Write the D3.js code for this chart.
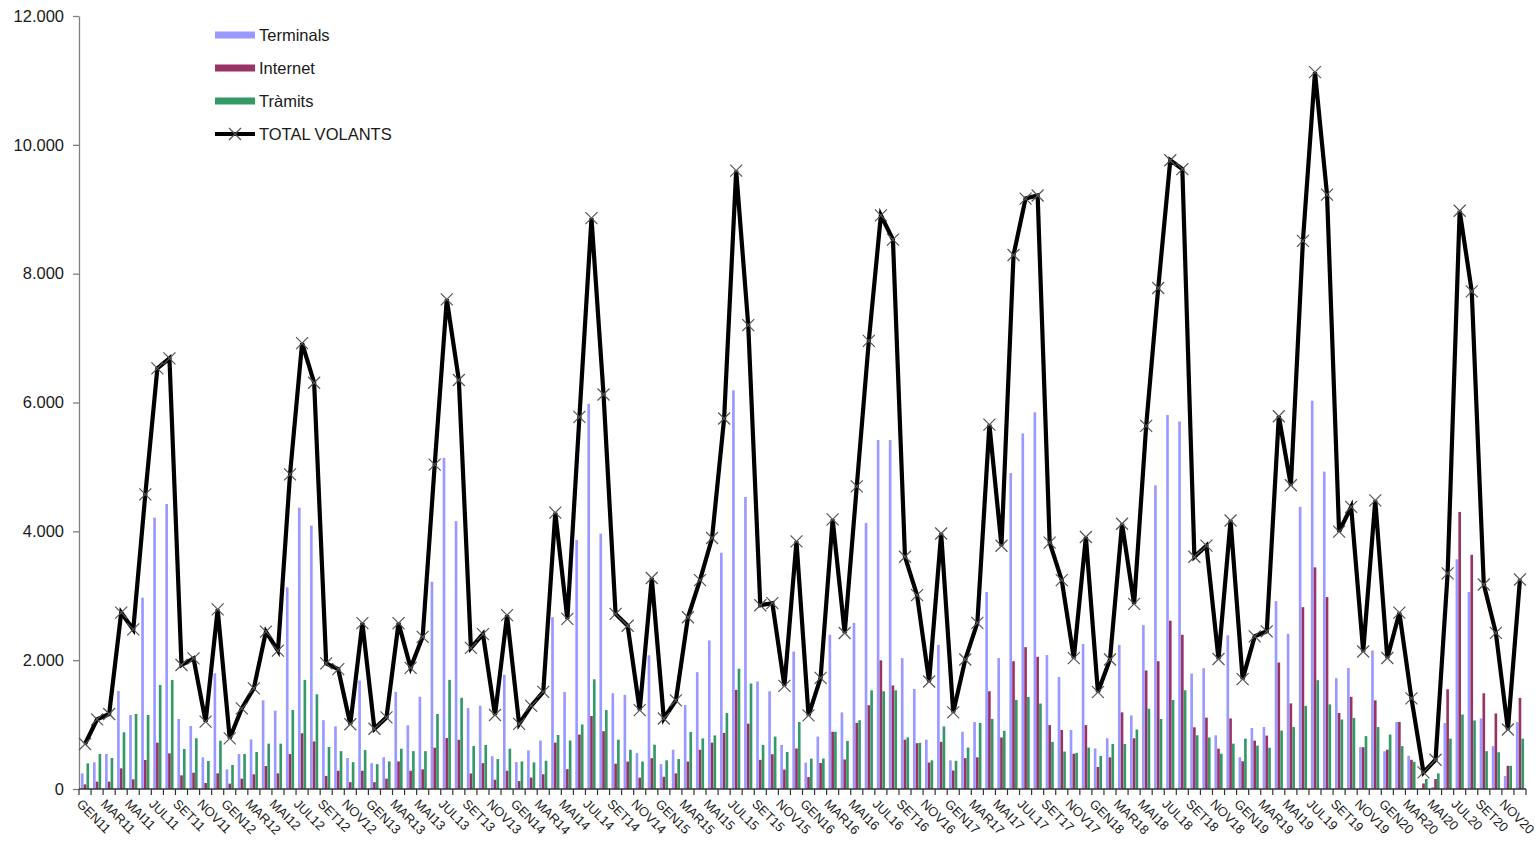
<!DOCTYPE html>
<html>
<head>
<meta charset="utf-8">
<script src="https://cdn.jsdelivr.net/npm/d3@7"></script>
<style>
  body { margin: 0; background: #fff; }
  text { font-family: "Liberation Sans", Arial, sans-serif; fill: #1a1a1a; }
</style>
</head>
<body>
<div id="chart"></div>
<script>
// month abbreviations (Catalan) and years used to build the category names
const monthNames = ["GEN","FEB","MAR","ABR","MAI","JUN","JUL","AGO","SET","OCT","NOV","DES"];
const years = ["11","12","13","14","15","16","17","18","19","20"];
const categories = [];
years.forEach(y => monthNames.forEach(m => categories.push(m + y)));

// y axis tick values
const yTicks = [0, 2000, 4000, 6000, 8000, 10000, 12000];

// series values, one per month, GEN11 .. DES20
const terminals = [
  243, 414, 543, 1521, 1149, 2970, 4212, 4424, 1087, 978, 492, 1796,
  305, 543, 771, 1376, 1216, 3130, 4367, 4089, 1069, 973, 481, 1684,
  401, 492, 1507, 989, 1432, 3218, 5142, 4158, 1256, 1293, 508, 1774,
  417, 600, 753, 2666, 1507, 3865, 5980, 3963, 1487, 1461, 557, 2076,
  386, 609, 1303, 1814, 2306, 3668, 6190, 4533, 1670, 1518, 684, 2134,
  410, 814, 2394, 1190, 2579, 4131, 5417, 5417, 2031, 1553, 766, 2237,
  445, 889, 1040, 3057, 2031, 4904, 5520, 5848, 2079, 1737, 917, 2250,
  629, 787, 2237, 1142, 2544, 4713, 5807, 5705, 1792, 1874, 834, 2385,
  493, 946, 962, 2917, 2409, 4379, 6029, 4927, 1720, 1877, 649, 2150,
  587, 1040, 516, 12, 31, 1024, 3566, 3058, 1095, 665, 203, 1040
];
const internet = [
  72, 114, 114, 321, 150, 450, 719, 554, 212, 254, 93, 243,
  83, 160, 228, 357, 243, 543, 866, 738, 203, 283, 107, 283,
  107, 160, 428, 283, 305, 641, 791, 764, 241, 401, 144, 283,
  123, 177, 229, 720, 308, 845, 1133, 897, 393, 426, 177, 478,
  190, 242, 426, 609, 720, 871, 1539, 1015, 452, 540, 301, 629,
  185, 404, 889, 458, 1026, 1300, 1997, 1607, 766, 711, 410, 732,
  287, 479, 492, 1518, 800, 1984, 2202, 2052, 992, 917, 547, 992,
  342, 492, 1190, 787, 1840, 1984, 2613, 2394, 958, 1108, 626, 1095,
  430, 751, 829, 1963, 1329, 2823, 3441, 2979, 1181, 1431, 649, 1376,
  610, 1040, 454, 86, 156, 1548, 4301, 3636, 1486, 1173, 360, 1415
];
const tramits = [
  398, 543, 481, 880, 1164, 1149, 1614, 1692, 621, 787, 435, 750,
  373, 543, 574, 704, 704, 1226, 1694, 1470, 652, 588, 417, 604,
  385, 428, 625, 588, 588, 1165, 1694, 1416, 668, 684, 465, 625,
  428, 413, 439, 838, 753, 1002, 1703, 1225, 766, 609, 426, 688,
  445, 465, 884, 786, 832, 1179, 1867, 1638, 684, 814, 575, 1040,
  472, 472, 889, 746, 1067, 1532, 1518, 1532, 800, 718, 445, 971,
  438, 643, 1026, 1088, 903, 1382, 1430, 1327, 732, 581, 561, 643,
  513, 698, 698, 923, 1245, 1088, 1382, 1532, 834, 800, 547, 704,
  782, 673, 641, 907, 962, 1290, 1689, 1314, 1079, 1103, 821, 962,
  845, 665, 422, 156, 242, 782, 1157, 1064, 587, 571, 360, 782
];
const totalVolants = [
  699, 1081, 1164, 2737, 2478, 4574, 6530, 6685, 1925, 2028, 1045, 2789,
  787, 1252, 1563, 2442, 2147, 4885, 6921, 6307, 1951, 1860, 1005, 2576,
  935, 1112, 2576, 1881, 2362, 5035, 7600, 6350, 2191, 2405, 1149, 2699,
  1010, 1290, 1507, 4290, 2640, 5777, 8862, 6124, 2718, 2535, 1225, 3275,
  1094, 1376, 2666, 3242, 3897, 5751, 9600, 7200, 2852, 2886, 1601, 3844,
  1142, 1724, 4186, 2421, 4699, 6956, 8906, 8529, 3605, 3010, 1669, 3967,
  1190, 2011, 2579, 5657, 3776, 8290, 9166, 9213, 3824, 3242, 2031, 3912,
  1505, 2011, 4118, 2873, 5636, 7777, 9761, 9624, 3605, 3777, 2018, 4168,
  1705, 2369, 2448, 5787, 4715, 8508, 11128, 9228, 3996, 4379, 2135, 4481,
  2033, 2737, 1408, 258, 454, 3347, 8977, 7726, 3175, 2424, 923, 3253
];

const seriesNames = ["Terminals", "Internet", "Tràmits"];
const seriesData = [terminals, internet, tramits];
const seriesColors = ["#9999ff", "#993366", "#339966"];

const width = 1539, height = 846;
const margin = { left: 79, right: 13, top: 16, bottom: 57 };

const svg = d3.select("#chart")
    .append("svg")
    .attr("width", width)
    .attr("height", height);

// scales
const x = d3.scaleBand()
    .domain(categories)
    .range([margin.left, width - margin.right]);

const sub = d3.scaleBand()
    .domain(seriesNames)
    .range([0, x.bandwidth() * 0.68])
    .paddingInner(0.05);

const y = d3.scaleLinear()
    .domain([0, 12000])
    .range([height - margin.bottom, margin.top]);

const fmt = d3.formatLocale({ decimal: ",", thousands: ".", grouping: [3], currency: ["", "€"] }).format(",");

// bars
seriesNames.forEach((name, s) => {
  svg.append("g")
    .selectAll("rect")
    .data(seriesData[s])
    .join("rect")
      .attr("x", (d, i) => x(categories[i]) + x.bandwidth() * 0.16 + sub(name))
      .attr("y", d => y(d))
      .attr("width", sub.bandwidth())
      .attr("height", d => y(0) - y(d))
      .attr("fill", seriesColors[s]);
});

// y axis
const yAxis = svg.append("g")
    .attr("transform", `translate(${margin.left},0)`)
    .call(d3.axisLeft(y).tickValues(yTicks).tickFormat(fmt).tickSize(6).tickSizeOuter(0).tickPadding(9));
yAxis.select(".domain").attr("stroke", "#7f7f7f").attr("stroke-width", 1.3);
yAxis.selectAll(".tick line").attr("stroke", "#7f7f7f").attr("stroke-width", 1.3);
yAxis.selectAll("text").style("font-size", "16.5px").attr("fill", "#1a1a1a");

// x axis: tick marks at band boundaries, labels on every second month
const xAxis = svg.append("g")
    .attr("transform", `translate(0,${y(0)})`);
xAxis.append("line")
    .attr("x1", margin.left).attr("x2", width - margin.right)
    .attr("stroke", "#333").attr("stroke-width", 1.3);
xAxis.selectAll("line.tk")
  .data(categories.concat(["end"]))
  .join("line")
    .attr("class", "tk")
    .attr("x1", d => d === "end" ? x.range()[1] : x(d))
    .attr("x2", d => d === "end" ? x.range()[1] : x(d))
    .attr("y1", 0).attr("y2", 6)
    .attr("stroke", "#333").attr("stroke-width", 1.2);
xAxis.selectAll("text")
  .data(categories.filter((d, i) => i % 2 === 0))
  .join("text")
    .attr("transform", d => `translate(${x(d) + x.bandwidth() / 2 - 2.5},${9}) rotate(45)`)
    .attr("dy", "0.72em")
    .style("font-size", "13px")
    .text(d => d);

// total line
const line = d3.line()
    .x((d, i) => x(categories[i]) + x.bandwidth() / 2)
    .y(d => y(d));

svg.append("path")
    .datum(totalVolants)
    .attr("fill", "none")
    .attr("stroke", "#000")
    .attr("stroke-width", 4.2)
    .attr("stroke-linejoin", "miter")
    .attr("d", line);

svg.append("g")
  .selectAll("path")
  .data(totalVolants)
  .join("path")
    .attr("transform", (d, i) => `translate(${x(categories[i]) + x.bandwidth() / 2},${y(d)})`)
    .attr("d", "M-6,-6L6,6M-6,6L6,-6")
    .attr("stroke", "#555")
    .attr("stroke-width", 1.2)
    .attr("fill", "none");

// legend
const legendNames = seriesNames.concat(["TOTAL VOLANTS"]);
const legend = svg.append("g").attr("transform", "translate(215,35)");
const item = legend.selectAll("g")
  .data(legendNames)
  .join("g")
    .attr("transform", (d, i) => `translate(0,${i * 33})`);
item.append("line")
    .attr("x1", 0).attr("x2", 40)
    .attr("stroke", (d, i) => i < 3 ? seriesColors[i] : "#000")
    .attr("stroke-width", (d, i) => i < 3 ? 7 : 4.2);
item.filter((d, i) => i === 3).append("path")
    .attr("transform", "translate(20,0)")
    .attr("d", "M-6,-6L6,6M-6,6L6,-6")
    .attr("stroke", "#555").attr("stroke-width", 1.2);
item.append("text")
    .attr("x", 44)
    .attr("dy", "0.36em")
    .style("font-size", "16.5px")
    .text(d => d);
</script>
</body>
</html>
